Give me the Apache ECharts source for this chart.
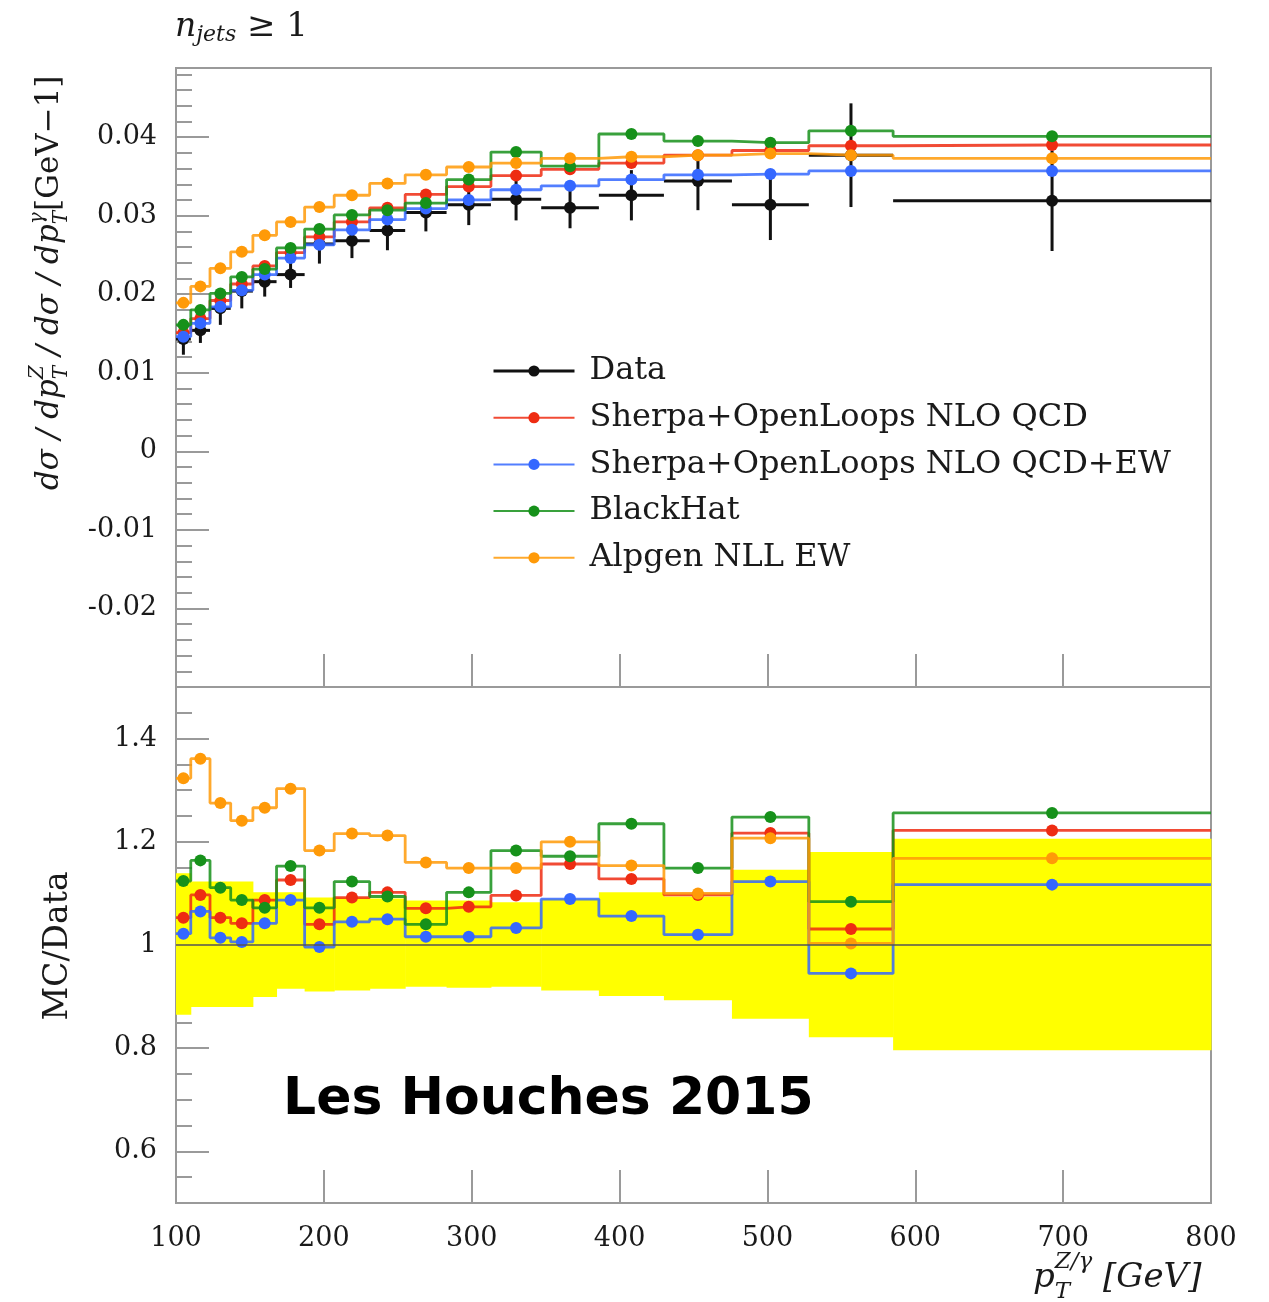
<!DOCTYPE html>
<html>
<head>
<meta charset="utf-8">
<script src="https://cdn.jsdelivr.net/npm/echarts@6/dist/echarts.min.js"></script>
<style>
html, body { margin: 0; padding: 0; background: #fff; }
#main { width: 1269px; height: 1302px; }
</style>
</head>
<body>
<div id="main"></div>
<script>
// bin edges of pT(Z/gamma) in GeV
const binEdges = [100, 110, 123, 137, 152, 168, 187, 207, 231, 255, 283, 313, 347, 386, 430, 476, 528, 585, 800]

// upper panel: dsigma(Z)/dsigma(gamma) per GeV
const dataValues = [0.0143, 0.0154, 0.0182, 0.0204, 0.0216, 0.0225, 0.0264, 0.0268, 0.0281, 0.0304, 0.0314, 0.0321, 0.0310, 0.0326, 0.0344, 0.0314, 0.0377, 0.0319]
const dataErrors = [0.0020, 0.0016, 0.0021, 0.0022, 0.0019, 0.0017, 0.0025, 0.0022, 0.0025, 0.0024, 0.0026, 0.0027, 0.0026, 0.0032, 0.0037, 0.0045, 0.0066, 0.0064]
const sherpaQcd = [0.0151, 0.0169, 0.0192, 0.0213, 0.0236, 0.0253, 0.0273, 0.0292, 0.0310, 0.0327, 0.0337, 0.0351, 0.0359, 0.0367, 0.0377, 0.0383, 0.0389, 0.0390]
const sherpaQcdEw = [0.0146, 0.0163, 0.0184, 0.0205, 0.0225, 0.0246, 0.0263, 0.0282, 0.0295, 0.0309, 0.0320, 0.0333, 0.0338, 0.0346, 0.0352, 0.0353, 0.0357, 0.0357]
const blackHat = [0.0161, 0.0180, 0.0201, 0.0222, 0.0232, 0.0259, 0.0283, 0.0301, 0.0307, 0.0316, 0.0346, 0.0381, 0.0363, 0.0404, 0.0395, 0.0393, 0.0408, 0.0401]
const alpgen = [0.0189, 0.0210, 0.0233, 0.0254, 0.0275, 0.0292, 0.0311, 0.0326, 0.0341, 0.0352, 0.0362, 0.0367, 0.0373, 0.0375, 0.0377, 0.0379, 0.0377, 0.0373]

// lower panel: MC/Data
const sherpaQcdRatio = [1.053, 1.097, 1.053, 1.042, 1.087, 1.126, 1.040, 1.092, 1.102, 1.071, 1.074, 1.096, 1.157, 1.128, 1.097, 1.217, 1.031, 1.222]
const sherpaQcdEwRatio = [1.022, 1.065, 1.014, 1.006, 1.042, 1.087, 0.996, 1.045, 1.050, 1.016, 1.016, 1.033, 1.089, 1.056, 1.020, 1.123, 0.945, 1.117]
const blackHatRatio = [1.124, 1.164, 1.111, 1.087, 1.072, 1.153, 1.072, 1.123, 1.094, 1.040, 1.102, 1.183, 1.172, 1.235, 1.149, 1.248, 1.084, 1.256]
const alpgenRatio = [1.323, 1.361, 1.275, 1.241, 1.266, 1.303, 1.183, 1.216, 1.212, 1.160, 1.149, 1.149, 1.200, 1.154, 1.100, 1.207, 1.003, 1.168]
const bandHigh = [1.139, 1.123, 1.123, 1.123, 1.102, 1.102, 1.092, 1.092, 1.090, 1.086, 1.086, 1.083, 1.089, 1.102, 1.094, 1.146, 1.180, 1.206]
const bandLow = [0.865, 0.880, 0.880, 0.880, 0.899, 0.915, 0.910, 0.912, 0.915, 0.919, 0.917, 0.919, 0.912, 0.901, 0.893, 0.857, 0.821, 0.796]

// tick labels
const xTicks = [100, 200, 300, 400, 500, 600, 700, 800]
const topTicks = [-0.02, -0.01, 0, 0.01, 0.02, 0.03, 0.04]
const ratioTicks = [0.6, 0.8, 1, 1.2, 1.4]

const mcModels = [
  { name: 'Sherpa+OpenLoops NLO QCD', color: '#ee2c12', top: sherpaQcd, ratio: sherpaQcdRatio },
  { name: 'Sherpa+OpenLoops NLO QCD+EW', color: '#3467ff', top: sherpaQcdEw, ratio: sherpaQcdEwRatio },
  { name: 'BlackHat', color: '#16911a', top: blackHat, ratio: blackHatRatio },
  { name: 'Alpgen NLL EW', color: '#ff9a08', top: alpgen, ratio: alpgenRatio }
]

const SERIF = 'DejaVu Serif'
const GRAY = '#9a9a9a'
const TEXT = '#1a1a1a'

// histogram as a step line, with a marker in the bin centre
function stepPoints (values) {
  const pts = []
  values.forEach(function (v, i) {
    const lo = binEdges[i]
    const hi = binEdges[i + 1]
    pts.push({ value: [lo, v], symbol: 'none' })
    pts.push({ value: [(lo + hi) / 2, v] })
    pts.push({ value: [hi, v], symbol: 'none' })
  })
  return pts
}

// text with sub/superscripts, built from pieces laid side by side
const measureCtx = document.createElement('canvas').getContext('2d')
function cssFont (f) {
  return (f.style || 'normal') + ' ' + (f.weight || 'normal') + ' ' + f.size + 'px "' + (f.family || SERIF) + '"'
}
function textWidth (text, f) {
  measureCtx.font = cssFont(f)
  return measureCtx.measureText(text).width
}
function textEl (text, f, x, y) {
  return {
    type: 'text',
    x: x,
    y: y,
    style: {
      text: text,
      fontSize: f.size,
      fontStyle: f.style || 'normal',
      fontWeight: f.weight || 'normal',
      fontFamily: f.family || SERIF,
      fill: TEXT,
      align: 'left',
      verticalAlign: 'middle'
    }
  }
}
function mathText (parts, x, y, rotation) {
  const children = []
  let cursor = 0
  parts.forEach(function (p) {
    if (p.text !== undefined) {
      children.push(textEl(p.text, p.font, cursor, p.dy || 0))
      cursor += textWidth(p.text, p.font)
    } else {
      children.push(textEl(p.sup, p.font, cursor, p.supDy))
      children.push(textEl(p.sub, p.font, cursor, p.subDy))
      cursor += Math.max(textWidth(p.sup, p.font), textWidth(p.sub, p.font))
    }
  })
  return { type: 'group', x: x, y: y, rotation: rotation || 0, children: children }
}

const IT = { size: 31, style: 'italic' }
const IT_SMALL = { size: 20, style: 'italic' }
const UP = { size: 31 }

const series = []

// data markers (also gives the legend icon)
series.push({
  name: 'Data',
  type: 'line',
  xAxisIndex: 0,
  yAxisIndex: 0,
  z: 3,
  data: dataValues.map(function (v, i) { return [(binEdges[i] + binEdges[i + 1]) / 2, v] }),
  symbol: 'circle',
  symbolSize: 12,
  itemStyle: { color: '#111' },
  lineStyle: { color: '#111', width: 3, opacity: 0 },
  emphasis: { disabled: true }
})
// data error bars
series.push({
  name: 'Data',
  type: 'custom',
  xAxisIndex: 0,
  yAxisIndex: 0,
  z: 2,
  data: dataValues.map(function (v, i) { return [binEdges[i], binEdges[i + 1], v, dataErrors[i]] }),
  encode: { x: [0, 1], y: 2 },
  renderItem: function (params, api) {
    const lo = api.value(0)
    const hi = api.value(1)
    const v = api.value(2)
    const e = api.value(3)
    const xc = (lo + hi) / 2
    const a = api.coord([lo, v])
    const b = api.coord([hi, v])
    const t = api.coord([xc, v + e])
    const d = api.coord([xc, v - e])
    return {
      type: 'group',
      children: [
        { type: 'line', shape: { x1: a[0], y1: a[1], x2: b[0], y2: b[1] }, style: { stroke: '#111', lineWidth: 3 } },
        { type: 'line', shape: { x1: t[0], y1: t[1], x2: d[0], y2: d[1] }, style: { stroke: '#111', lineWidth: 3 } }
      ]
    }
  }
})
// yellow data uncertainty band in the ratio panel
series.push({
  name: 'Data band',
  type: 'custom',
  xAxisIndex: 1,
  yAxisIndex: 2,
  z: 1,
  data: bandLow.map(function (v, i) { return [binEdges[i], binEdges[i + 1], v, bandHigh[i]] }),
  encode: { x: [0, 1], y: [2, 3] },
  renderItem: function (params, api) {
    const p0 = api.coord([api.value(0), api.value(3)])
    const p1 = api.coord([api.value(1), api.value(2)])
    return {
      type: 'rect',
      shape: { x: p0[0], y: p0[1], width: p1[0] - p0[0] + 0.5, height: p1[1] - p0[1] },
      style: { fill: '#ffff00' }
    }
  },
  markLine: {
    silent: true,
    symbol: 'none',
    label: { show: false },
    lineStyle: { color: '#555', width: 1.5, type: 'solid' },
    data: [{ yAxis: 1 }]
  }
})

mcModels.forEach(function (m) {
  const common = {
    name: m.name,
    type: 'line',
    z: 4,
    symbol: 'circle',
    symbolSize: 12,
    showSymbol: true,
    showAllSymbol: true,
    itemStyle: { color: m.color },
    lineStyle: { color: m.color, width: 2.8, opacity: 0.85 },
    emphasis: { disabled: true }
  }
  series.push(Object.assign({}, common, { xAxisIndex: 0, yAxisIndex: 0, data: stepPoints(m.top) }))
  series.push(Object.assign({}, common, { xAxisIndex: 1, yAxisIndex: 2, data: stepPoints(m.ratio) }))
})

function numLabel (v) {
  return String(+v.toFixed(2))
}
const tickStyle = { color: GRAY, width: 2 }
const gridBox = { show: true, borderColor: GRAY, borderWidth: 2, outerBoundsMode: 'none' }
const labelFont = { fontFamily: SERIF, fontSize: 27, color: TEXT }

const option = {
  animation: false,
  backgroundColor: '#fff',
  grid: [
    Object.assign({ left: 176, top: 68, width: 1035, height: 619 }, gridBox),
    Object.assign({ left: 176, top: 687, width: 1035, height: 516 }, gridBox)
  ],
  xAxis: [
    {
      type: 'value', gridIndex: 0, position: 'bottom', min: 100, max: 800, interval: 100,
      axisLine: { show: false, onZero: false },
      axisTick: { inside: true, length: 33, lineStyle: tickStyle },
      axisLabel: { show: false },
      splitLine: { show: false }
    },
    {
      type: 'value', gridIndex: 1, position: 'bottom', min: 100, max: 800, interval: 100,
      axisLine: { show: false, onZero: false },
      axisTick: { inside: true, length: 33, lineStyle: tickStyle },
      axisLabel: Object.assign({
        customValues: xTicks,
        margin: 22,
        showMinLabel: true,
        showMaxLabel: true
      }, labelFont),
      splitLine: { show: false }
    }
  ],
  yAxis: [
    {
      type: 'value', gridIndex: 0, position: 'left', min: -0.03, max: 0.0488, interval: 0.01,
      axisLine: { show: false, onZero: false },
      axisTick: { inside: true, length: 33, lineStyle: tickStyle, customValues: topTicks },
      axisLabel: Object.assign({ customValues: topTicks, formatter: numLabel, margin: 19 }, labelFont),
      splitLine: { show: false }
    },
    {
      type: 'value', gridIndex: 0, position: 'left', offset: 0, min: -0.03, max: 0.0488, interval: 0.002,
      axisLine: { show: false, onZero: false },
      axisTick: { inside: true, length: 16, lineStyle: tickStyle },
      axisLabel: { show: false },
      splitLine: { show: false }
    },
    {
      type: 'value', gridIndex: 1, position: 'left', min: 0.5, max: 1.5, interval: 0.1,
      axisLine: { show: false, onZero: false },
      axisTick: { inside: true, length: 33, lineStyle: tickStyle, customValues: ratioTicks },
      axisLabel: Object.assign({ customValues: ratioTicks, formatter: numLabel, margin: 19 }, labelFont),
      splitLine: { show: false }
    },
    {
      type: 'value', gridIndex: 1, position: 'left', offset: 0, min: 0.5, max: 1.5, interval: 0.05,
      axisLine: { show: false, onZero: false },
      axisTick: { inside: true, length: 16, lineStyle: tickStyle },
      axisLabel: { show: false },
      splitLine: { show: false }
    }
  ],
  legend: {
    data: [
      { name: 'Data', lineStyle: { opacity: 1, width: 3, color: '#111' } }
    ].concat(mcModels.map(function (m) { return m.name })),
    orient: 'vertical',
    left: 487,
    top: 346,
    itemWidth: 81,
    itemHeight: 14,
    itemGap: 6.7,
    selectedMode: false,
    textStyle: { fontFamily: SERIF, fontSize: 32, color: TEXT, lineHeight: 40, padding: [0, 0, 0, 10] }
  },
  graphic: [
    // n_jets >= 1
    mathText([
      { text: 'n', font: { size: 33, style: 'italic' } },
      { text: 'jets', font: { size: 22, style: 'italic' }, dy: 8 },
      { text: ' ≥ 1', font: { size: 34 } }
    ], 175, 27),
    // y title of the upper panel
    mathText([
      { text: 'dσ / dp', font: IT },
      { sup: 'Z', sub: 'T', font: IT_SMALL, supDy: -12, subDy: 12 },
      { text: ' / dσ / dp', font: IT },
      { sup: 'γ', sub: 'T', font: IT_SMALL, supDy: -12, subDy: 12 },
      { text: '[GeV−1]', font: UP }
    ], 50, 490, Math.PI / 2),
    // y title of the ratio panel
    {
      type: 'text',
      x: 58,
      y: 946,
      rotation: Math.PI / 2,
      style: { text: 'MC/Data', fontFamily: SERIF, fontSize: 33, fill: TEXT, align: 'center', verticalAlign: 'middle' }
    },
    // x title
    mathText([
      { text: 'p', font: { size: 34, style: 'italic' } },
      { sup: 'Z/γ', sub: 'T', font: { size: 23, style: 'italic' }, supDy: -16, subDy: 14 },
      { text: ' [GeV]', font: { size: 34, style: 'italic' } }
    ], 1033, 1278),
    {
      type: 'text',
      x: 283,
      y: 1100,
      style: { text: 'Les Houches 2015', fontFamily: 'DejaVu Sans', fontWeight: 'bold', fontSize: 52, fill: '#000', align: 'left', verticalAlign: 'middle' }
    }
  ],
  series: series
}

const myChart = echarts.init(document.getElementById('main'))
myChart.setOption(option)
window.addEventListener('resize', () => {
  myChart.resize()
})
</script>
</body>
</html>
